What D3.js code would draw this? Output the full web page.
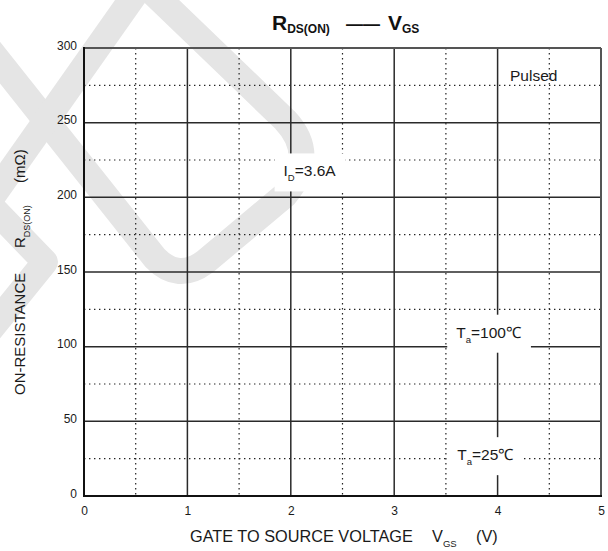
<!DOCTYPE html>
<html>
<head>
<meta charset="utf-8">
<script src="https://cdn.jsdelivr.net/npm/d3@7"></script>
<style>
  html, body { margin: 0; padding: 0; background: #fff; }
  svg { display: block; font-family: "Liberation Sans", Arial, sans-serif; }
</style>
</head>
<body>
<svg id="chart" width="608" height="551"></svg>
<script>
// Axis ranges and ticks
const xMajorTicks = [0, 1, 2, 3, 4, 5];
const xMinorTicks = [0.5, 1.5, 2.5, 3.5, 4.5];
const yMajorTicks = [0, 50, 100, 150, 200, 250, 300];
const yMinorTicks = [25, 75, 125, 175, 225, 275];

// Condition notes placed in data units (VGS, RDS)
const noteMain = ["Pulsed", "I", "T", "T"];
const noteSub = ["", "D", "a", "a"];
const noteTail = ["", "=3.6A", "=100\u2103", "=25\u2103"];
const noteVgs = [4.12, 1.93, 3.6, 3.61];
const noteRds = [278, 214, 106, 24];
const noteBoxed = [false, true, true, true];

const svg = d3.select("#chart");
const margin = { left: 84, top: 48, right: 7, bottom: 55 };
const W = 608, H = 551;

const x = d3.scaleLinear().domain([0, 5]).range([margin.left, W - margin.right]);
const y = d3.scaleLinear().domain([0, 300]).range([H - margin.bottom, margin.top]);

// Faint logo mark behind the plot
const wm = svg.append("g").attr("fill", "none").attr("stroke", "#e5e5e5")
  .attr("stroke-width", 26).attr("stroke-linejoin", "round");
wm.append("path").attr("d", "M 150,-10 L 285,120 Q 318,155 285,195 L 205,262 Q 178,282 155,258 L -10,50");
wm.append("path").attr("d", "M 138,-10 L -10,200");
wm.append("path").attr("d", "M -10,205 L 45,262 L -10,330");

// Minor dotted grid
const grid = svg.append("g");
grid.selectAll("line.vmin").data(xMinorTicks).join("line")
  .attr("x1", d => x(d)).attr("x2", d => x(d))
  .attr("y1", y(300)).attr("y2", y(0))
  .attr("stroke", "#222").attr("stroke-width", 1.2).attr("stroke-dasharray", "1.4,3.6");
grid.selectAll("line.hmin").data(yMinorTicks).join("line")
  .attr("x1", x(0)).attr("x2", x(5))
  .attr("y1", d => y(d)).attr("y2", d => y(d))
  .attr("stroke", "#222").attr("stroke-width", 1.2).attr("stroke-dasharray", "1.4,3.6");

// Major solid grid
grid.selectAll("line.vmaj").data(xMajorTicks.slice(1, -1)).join("line")
  .attr("x1", d => x(d)).attr("x2", d => x(d))
  .attr("y1", y(300)).attr("y2", y(0))
  .attr("stroke", "#2a2a2a").attr("stroke-width", 1.5);
grid.selectAll("line.hmaj").data(yMajorTicks.slice(1, -1)).join("line")
  .attr("x1", x(0)).attr("x2", x(5))
  .attr("y1", d => y(d)).attr("y2", d => y(d))
  .attr("stroke", "#2a2a2a").attr("stroke-width", 1.5);

// Frame
svg.append("line").attr("x1", x(0)).attr("x2", x(5)).attr("y1", y(300)).attr("y2", y(300))
  .attr("stroke", "#555").attr("stroke-width", 2);
svg.append("line").attr("x1", x(5)).attr("x2", x(5)).attr("y1", y(300)).attr("y2", y(0))
  .attr("stroke", "#555").attr("stroke-width", 2);
svg.append("line").attr("x1", x(0)).attr("x2", x(0)).attr("y1", y(300) - 1).attr("y2", y(0) + 1)
  .attr("stroke", "#111").attr("stroke-width", 2);
svg.append("line").attr("x1", x(0) - 1).attr("x2", x(5) + 1).attr("y1", y(0)).attr("y2", y(0))
  .attr("stroke", "#111").attr("stroke-width", 2);

// Axes (labels only)
const xAxis = d3.axisBottom(x).tickValues(xMajorTicks).tickSize(0).tickPadding(10).tickFormat(d3.format("d"));
const gx = svg.append("g").attr("transform", `translate(0,${y(0)})`).call(xAxis);
gx.select(".domain").remove();
gx.selectAll("text").attr("font-size", 12).attr("fill", "#1a1a1a").attr("font-family", "Liberation Sans, Arial, sans-serif");

const yAxis = d3.axisLeft(y).tickValues(yMajorTicks).tickSize(0).tickPadding(7).tickFormat(d3.format("d"));
const gy = svg.append("g").attr("transform", `translate(${x(0)},0)`).call(yAxis);
gy.select(".domain").remove();
gy.selectAll("text").attr("font-size", 12).attr("fill", "#1a1a1a").attr("dy", "0.1em")
  .attr("font-family", "Liberation Sans, Arial, sans-serif");

// Notes with white backing boxes
noteMain.forEach((m, i) => {
  const g = svg.append("g");
  const t = g.append("text").attr("x", x(noteVgs[i])).attr("y", y(noteRds[i]))
    .attr("font-size", 15.5).attr("fill", "#1a1a1a");
  t.append("tspan").text(m);
  if (noteSub[i]) {
    t.append("tspan").text(noteSub[i]).attr("font-size", 9.5).attr("dy", 5);
    t.append("tspan").text(noteTail[i]).attr("dy", -5);
  }
  if (noteBoxed[i]) {
    const b = t.node().getBBox();
    g.insert("rect", "text").attr("x", b.x - 9).attr("y", b.y - 9)
      .attr("width", b.width + 18).attr("height", b.height + 17).attr("fill", "#fff");
  }
});

// Title
const title = svg.append("text").attr("y", 30)
  .attr("font-weight", "bold").attr("fill", "#111").attr("font-size", 21);
title.append("tspan").text("R").attr("x", 272);
title.append("tspan").text("DS(ON)").attr("font-size", 12).attr("dy", 3);
title.append("tspan").text("\u2014\u2014").attr("x", 346).attr("font-size", 17).attr("dy", -3);
title.append("tspan").text("V").attr("x", 388).attr("font-size", 21);
title.append("tspan").text("GS").attr("font-size", 12).attr("dy", 3);

// X axis title
const xt = svg.append("text").attr("x", 190).attr("y", 542).attr("font-size", 16.3).attr("fill", "#1a1a1a");
xt.append("tspan").text("GATE TO SOURCE VOLTAGE");
xt.append("tspan").text("V").attr("x", 432);
xt.append("tspan").text("GS").attr("font-size", 9.5).attr("dy", 5);
xt.append("tspan").text("(V)").attr("x", 476).attr("dy", -5);

// Y axis title
const yt = svg.append("text").attr("transform", "translate(25,395) rotate(-90)")
  .attr("font-size", 15).attr("fill", "#1a1a1a");
yt.append("tspan").text("ON-RESISTANCE");
yt.append("tspan").text("R").attr("x", 147);
yt.append("tspan").text("DS(ON)").attr("font-size", 9).attr("dy", 5);
yt.append("tspan").text("(m\u03A9)").attr("x", 212).attr("dy", -5);
</script>
</body>
</html>
